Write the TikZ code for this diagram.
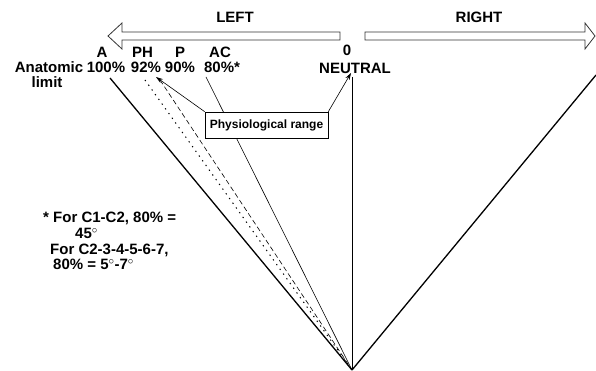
\documentclass[tikz,border=0pt]{standalone}
\usepackage{fontspec}
\setmainfont{Liberation Sans}
\usetikzlibrary{arrows.meta}
\begin{document}
\begin{tikzpicture}[x=1pt, y=-1pt,
    tag/.style={font=\bfseries\fontsize{15}{16}\selectfont, inner sep=0pt, anchor=base},
    note/.style={font=\bfseries\fontsize{15}{15.7}\selectfont, inner sep=0pt, align=left, anchor=north west},
    bigarrow/.style={draw=black!80, line width=0.8pt, line join=miter},
    ray/.style={line width=0.6pt},
    pointer/.style={line width=0.6pt, -{Stealth[length=7pt, width=4.5pt]}},
    rangebox/.style={draw, fill=white, line width=0.6pt, font=\bfseries\fontsize{12}{14}\selectfont,
        minimum width=123pt, minimum height=26pt, inner sep=0pt}
  ]
    \useasboundingbox (0,0) rectangle (596,371);

    % Fleches de direction
    \draw[bigarrow] (340,32) -- (122,32) -- (122,23) -- (108,36) -- (122,49) -- (122,40) -- (340,40) -- cycle;
    \draw[bigarrow] (365,32) -- (585,32) -- (585,23) -- (595,36) -- (585,49) -- (585,40) -- (365,40) -- cycle;
    \node[tag] (left) at (235,23) {LEFT};
    \node[tag] (right) at (479,23) {RIGHT};

    % Extremites des rayons
    \coordinate (apex) at (352,370);
    \coordinate (anat) at (110,78);
    \coordinate (phys) at (145,80);
    \coordinate (pass) at (160,80);
    \coordinate (acti) at (206,77);
    \coordinate (neut) at (352,77);
    \coordinate (rgt) at (596,75);

    % Rayons
    \draw[ray, line width=1.3pt] (anat) -- (apex);
    \draw[ray, line width=1pt, dash pattern=on 1.3pt off 4.5pt] (phys) -- (apex);
    \draw[ray, dash pattern=on 5pt off 3pt] (pass) -- (apex);
    \draw[ray] (acti) -- (apex);
    \draw[ray] (neut) -- (apex);
    \draw[ray, line width=1.3pt] (apex) -- (rgt);

    % Etiquettes
    \node[tag] (A) at (102,58) {A};
    \node[tag] (PH) at (142.5,58) {PH};
    \node[tag] (P) at (180,58) {P};
    \node[tag] (AC) at (220,58) {AC};
    \node[tag] (anatomic) at (49,73) {Anatomic};
    \node[tag] (limit) at (47,88) {limit};
    \node[tag] (pA) at (106,73) {100\%};
    \node[tag] (pPH) at (146,73) {92\%};
    \node[tag] (pP) at (180,73) {90\%};
    \node[tag] (pAC) at (222,73) {80\%*};
    \node[tag] (zero) at (347,56) {0};
    \node[tag] (neutral) at (355,74) {NEUTRAL};

    % Zone physiologique
    \node[rangebox] (range) at (266.5,125) {Physiological range};
    \coordinate (phtip) at (156,77);
    \coordinate (neutip) at (351,73);
    \draw[pointer] (range.north west) -- (phtip);
    \draw[pointer] (range.north east) -- (neutip);

    % Note
    \node[note] (note) at (43,212) {* For C1-C2, 80\% =\\
        \hspace*{32pt}45$^\circ$\\
        \hspace*{7pt}For C2-3-4-5-6-7,\\
        \hspace*{10pt}80\% = 5$^\circ$-7$^\circ$};
\end{tikzpicture}
\end{document}
